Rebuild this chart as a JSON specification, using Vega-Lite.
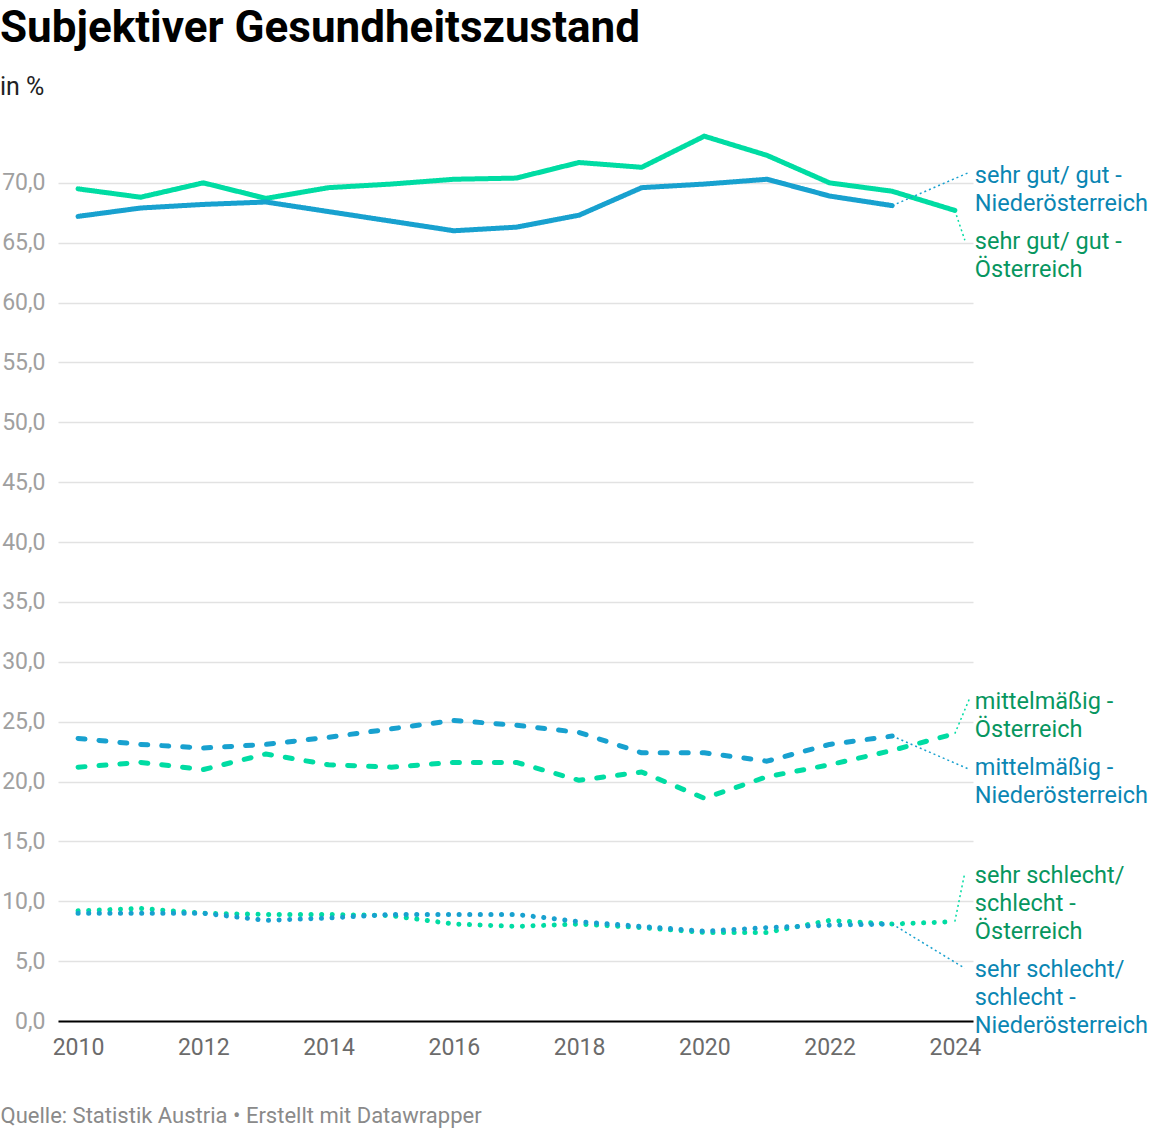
{
  "$schema": "https://vega.github.io/schema/vega-lite/v6.json",
  "autosize": {"type": "none"},
  "width": 915,
  "height": 898,
  "padding": {"left": 58, "top": 123, "right": 177, "bottom": 107},
  "title": {
    "text": "Subjektiver Gesundheitszustand",
    "subtitle": "in %",
    "anchor": "start",
    "frame": "group",
    "dx": -58,
    "offset": 23,
    "font": "Roboto",
    "fontSize": 44,
    "fontWeight": "bold",
    "color": "#000000",
    "subtitleFont": "Roboto",
    "subtitleFontSize": 25,
    "subtitleColor": "#222222",
    "subtitlePadding": 24
  },
  "config": {
    "background": "white",
    "view": {"stroke": null},
    "font": "Roboto"
  },
  "datasets": {
    "werte": [
      {"jahr": 2010, "serie": "gut_OE", "region": "Österreich", "kategorie": "sehr gut/ gut", "wert": 69.5},
      {"jahr": 2011, "serie": "gut_OE", "region": "Österreich", "kategorie": "sehr gut/ gut", "wert": 68.8},
      {"jahr": 2012, "serie": "gut_OE", "region": "Österreich", "kategorie": "sehr gut/ gut", "wert": 70.0},
      {"jahr": 2013, "serie": "gut_OE", "region": "Österreich", "kategorie": "sehr gut/ gut", "wert": 68.7},
      {"jahr": 2014, "serie": "gut_OE", "region": "Österreich", "kategorie": "sehr gut/ gut", "wert": 69.6},
      {"jahr": 2015, "serie": "gut_OE", "region": "Österreich", "kategorie": "sehr gut/ gut", "wert": 69.9},
      {"jahr": 2016, "serie": "gut_OE", "region": "Österreich", "kategorie": "sehr gut/ gut", "wert": 70.3},
      {"jahr": 2017, "serie": "gut_OE", "region": "Österreich", "kategorie": "sehr gut/ gut", "wert": 70.4},
      {"jahr": 2018, "serie": "gut_OE", "region": "Österreich", "kategorie": "sehr gut/ gut", "wert": 71.7},
      {"jahr": 2019, "serie": "gut_OE", "region": "Österreich", "kategorie": "sehr gut/ gut", "wert": 71.3},
      {"jahr": 2020, "serie": "gut_OE", "region": "Österreich", "kategorie": "sehr gut/ gut", "wert": 73.9},
      {"jahr": 2021, "serie": "gut_OE", "region": "Österreich", "kategorie": "sehr gut/ gut", "wert": 72.3},
      {"jahr": 2022, "serie": "gut_OE", "region": "Österreich", "kategorie": "sehr gut/ gut", "wert": 70.0},
      {"jahr": 2023, "serie": "gut_OE", "region": "Österreich", "kategorie": "sehr gut/ gut", "wert": 69.3},
      {"jahr": 2024, "serie": "gut_OE", "region": "Österreich", "kategorie": "sehr gut/ gut", "wert": 67.7},
      {"jahr": 2010, "serie": "gut_NOE", "region": "Niederösterreich", "kategorie": "sehr gut/ gut", "wert": 67.2},
      {"jahr": 2011, "serie": "gut_NOE", "region": "Niederösterreich", "kategorie": "sehr gut/ gut", "wert": 67.9},
      {"jahr": 2012, "serie": "gut_NOE", "region": "Niederösterreich", "kategorie": "sehr gut/ gut", "wert": 68.2},
      {"jahr": 2013, "serie": "gut_NOE", "region": "Niederösterreich", "kategorie": "sehr gut/ gut", "wert": 68.4},
      {"jahr": 2014, "serie": "gut_NOE", "region": "Niederösterreich", "kategorie": "sehr gut/ gut", "wert": 67.6},
      {"jahr": 2015, "serie": "gut_NOE", "region": "Niederösterreich", "kategorie": "sehr gut/ gut", "wert": 66.8},
      {"jahr": 2016, "serie": "gut_NOE", "region": "Niederösterreich", "kategorie": "sehr gut/ gut", "wert": 66.0},
      {"jahr": 2017, "serie": "gut_NOE", "region": "Niederösterreich", "kategorie": "sehr gut/ gut", "wert": 66.3},
      {"jahr": 2018, "serie": "gut_NOE", "region": "Niederösterreich", "kategorie": "sehr gut/ gut", "wert": 67.3},
      {"jahr": 2019, "serie": "gut_NOE", "region": "Niederösterreich", "kategorie": "sehr gut/ gut", "wert": 69.6},
      {"jahr": 2020, "serie": "gut_NOE", "region": "Niederösterreich", "kategorie": "sehr gut/ gut", "wert": 69.9},
      {"jahr": 2021, "serie": "gut_NOE", "region": "Niederösterreich", "kategorie": "sehr gut/ gut", "wert": 70.3},
      {"jahr": 2022, "serie": "gut_NOE", "region": "Niederösterreich", "kategorie": "sehr gut/ gut", "wert": 68.9},
      {"jahr": 2023, "serie": "gut_NOE", "region": "Niederösterreich", "kategorie": "sehr gut/ gut", "wert": 68.1},
      {"jahr": 2010, "serie": "mittel_OE", "region": "Österreich", "kategorie": "mittelmäßig", "wert": 21.2},
      {"jahr": 2011, "serie": "mittel_OE", "region": "Österreich", "kategorie": "mittelmäßig", "wert": 21.6},
      {"jahr": 2012, "serie": "mittel_OE", "region": "Österreich", "kategorie": "mittelmäßig", "wert": 21.0},
      {"jahr": 2013, "serie": "mittel_OE", "region": "Österreich", "kategorie": "mittelmäßig", "wert": 22.3},
      {"jahr": 2014, "serie": "mittel_OE", "region": "Österreich", "kategorie": "mittelmäßig", "wert": 21.4},
      {"jahr": 2015, "serie": "mittel_OE", "region": "Österreich", "kategorie": "mittelmäßig", "wert": 21.2},
      {"jahr": 2016, "serie": "mittel_OE", "region": "Österreich", "kategorie": "mittelmäßig", "wert": 21.6},
      {"jahr": 2017, "serie": "mittel_OE", "region": "Österreich", "kategorie": "mittelmäßig", "wert": 21.6},
      {"jahr": 2018, "serie": "mittel_OE", "region": "Österreich", "kategorie": "mittelmäßig", "wert": 20.1},
      {"jahr": 2019, "serie": "mittel_OE", "region": "Österreich", "kategorie": "mittelmäßig", "wert": 20.8},
      {"jahr": 2020, "serie": "mittel_OE", "region": "Österreich", "kategorie": "mittelmäßig", "wert": 18.6},
      {"jahr": 2021, "serie": "mittel_OE", "region": "Österreich", "kategorie": "mittelmäßig", "wert": 20.4},
      {"jahr": 2022, "serie": "mittel_OE", "region": "Österreich", "kategorie": "mittelmäßig", "wert": 21.4},
      {"jahr": 2023, "serie": "mittel_OE", "region": "Österreich", "kategorie": "mittelmäßig", "wert": 22.6},
      {"jahr": 2024, "serie": "mittel_OE", "region": "Österreich", "kategorie": "mittelmäßig", "wert": 24.0},
      {"jahr": 2010, "serie": "mittel_NOE", "region": "Niederösterreich", "kategorie": "mittelmäßig", "wert": 23.6},
      {"jahr": 2011, "serie": "mittel_NOE", "region": "Niederösterreich", "kategorie": "mittelmäßig", "wert": 23.1},
      {"jahr": 2012, "serie": "mittel_NOE", "region": "Niederösterreich", "kategorie": "mittelmäßig", "wert": 22.8},
      {"jahr": 2013, "serie": "mittel_NOE", "region": "Niederösterreich", "kategorie": "mittelmäßig", "wert": 23.1},
      {"jahr": 2014, "serie": "mittel_NOE", "region": "Niederösterreich", "kategorie": "mittelmäßig", "wert": 23.7},
      {"jahr": 2015, "serie": "mittel_NOE", "region": "Niederösterreich", "kategorie": "mittelmäßig", "wert": 24.4},
      {"jahr": 2016, "serie": "mittel_NOE", "region": "Niederösterreich", "kategorie": "mittelmäßig", "wert": 25.1},
      {"jahr": 2017, "serie": "mittel_NOE", "region": "Niederösterreich", "kategorie": "mittelmäßig", "wert": 24.7},
      {"jahr": 2018, "serie": "mittel_NOE", "region": "Niederösterreich", "kategorie": "mittelmäßig", "wert": 24.1},
      {"jahr": 2019, "serie": "mittel_NOE", "region": "Niederösterreich", "kategorie": "mittelmäßig", "wert": 22.4},
      {"jahr": 2020, "serie": "mittel_NOE", "region": "Niederösterreich", "kategorie": "mittelmäßig", "wert": 22.4},
      {"jahr": 2021, "serie": "mittel_NOE", "region": "Niederösterreich", "kategorie": "mittelmäßig", "wert": 21.7},
      {"jahr": 2022, "serie": "mittel_NOE", "region": "Niederösterreich", "kategorie": "mittelmäßig", "wert": 23.1},
      {"jahr": 2023, "serie": "mittel_NOE", "region": "Niederösterreich", "kategorie": "mittelmäßig", "wert": 23.8},
      {"jahr": 2010, "serie": "schlecht_OE", "region": "Österreich", "kategorie": "sehr schlecht/ schlecht", "wert": 9.2},
      {"jahr": 2011, "serie": "schlecht_OE", "region": "Österreich", "kategorie": "sehr schlecht/ schlecht", "wert": 9.4},
      {"jahr": 2012, "serie": "schlecht_OE", "region": "Österreich", "kategorie": "sehr schlecht/ schlecht", "wert": 9.0},
      {"jahr": 2013, "serie": "schlecht_OE", "region": "Österreich", "kategorie": "sehr schlecht/ schlecht", "wert": 8.9},
      {"jahr": 2014, "serie": "schlecht_OE", "region": "Österreich", "kategorie": "sehr schlecht/ schlecht", "wert": 8.9},
      {"jahr": 2015, "serie": "schlecht_OE", "region": "Österreich", "kategorie": "sehr schlecht/ schlecht", "wert": 8.8},
      {"jahr": 2016, "serie": "schlecht_OE", "region": "Österreich", "kategorie": "sehr schlecht/ schlecht", "wert": 8.1},
      {"jahr": 2017, "serie": "schlecht_OE", "region": "Österreich", "kategorie": "sehr schlecht/ schlecht", "wert": 7.9},
      {"jahr": 2018, "serie": "schlecht_OE", "region": "Österreich", "kategorie": "sehr schlecht/ schlecht", "wert": 8.1},
      {"jahr": 2019, "serie": "schlecht_OE", "region": "Österreich", "kategorie": "sehr schlecht/ schlecht", "wert": 7.8},
      {"jahr": 2020, "serie": "schlecht_OE", "region": "Österreich", "kategorie": "sehr schlecht/ schlecht", "wert": 7.4},
      {"jahr": 2021, "serie": "schlecht_OE", "region": "Österreich", "kategorie": "sehr schlecht/ schlecht", "wert": 7.4},
      {"jahr": 2022, "serie": "schlecht_OE", "region": "Österreich", "kategorie": "sehr schlecht/ schlecht", "wert": 8.4},
      {"jahr": 2023, "serie": "schlecht_OE", "region": "Österreich", "kategorie": "sehr schlecht/ schlecht", "wert": 8.1},
      {"jahr": 2024, "serie": "schlecht_OE", "region": "Österreich", "kategorie": "sehr schlecht/ schlecht", "wert": 8.3},
      {"jahr": 2010, "serie": "schlecht_NOE", "region": "Niederösterreich", "kategorie": "sehr schlecht/ schlecht", "wert": 9.0},
      {"jahr": 2011, "serie": "schlecht_NOE", "region": "Niederösterreich", "kategorie": "sehr schlecht/ schlecht", "wert": 9.0},
      {"jahr": 2012, "serie": "schlecht_NOE", "region": "Niederösterreich", "kategorie": "sehr schlecht/ schlecht", "wert": 9.0},
      {"jahr": 2013, "serie": "schlecht_NOE", "region": "Niederösterreich", "kategorie": "sehr schlecht/ schlecht", "wert": 8.4},
      {"jahr": 2014, "serie": "schlecht_NOE", "region": "Niederösterreich", "kategorie": "sehr schlecht/ schlecht", "wert": 8.6},
      {"jahr": 2015, "serie": "schlecht_NOE", "region": "Niederösterreich", "kategorie": "sehr schlecht/ schlecht", "wert": 8.9},
      {"jahr": 2016, "serie": "schlecht_NOE", "region": "Niederösterreich", "kategorie": "sehr schlecht/ schlecht", "wert": 8.9},
      {"jahr": 2017, "serie": "schlecht_NOE", "region": "Niederösterreich", "kategorie": "sehr schlecht/ schlecht", "wert": 8.9},
      {"jahr": 2018, "serie": "schlecht_NOE", "region": "Niederösterreich", "kategorie": "sehr schlecht/ schlecht", "wert": 8.3},
      {"jahr": 2019, "serie": "schlecht_NOE", "region": "Niederösterreich", "kategorie": "sehr schlecht/ schlecht", "wert": 7.9},
      {"jahr": 2020, "serie": "schlecht_NOE", "region": "Niederösterreich", "kategorie": "sehr schlecht/ schlecht", "wert": 7.5},
      {"jahr": 2021, "serie": "schlecht_NOE", "region": "Niederösterreich", "kategorie": "sehr schlecht/ schlecht", "wert": 7.8},
      {"jahr": 2022, "serie": "schlecht_NOE", "region": "Niederösterreich", "kategorie": "sehr schlecht/ schlecht", "wert": 8.0},
      {"jahr": 2023, "serie": "schlecht_NOE", "region": "Niederösterreich", "kategorie": "sehr schlecht/ schlecht", "wert": 8.1}
    ],
    "hinweise": [
      {"region": "Niederösterreich", "label": "sehr gut/ gut -\nNiederösterreich", "x1": 2023, "y1": 68.1, "x2": 2024.24, "y2": 70.9, "ylabel": 70.6},
      {"region": "Österreich", "label": "sehr gut/ gut -\nÖsterreich", "x1": 2024, "y1": 67.7, "x2": 2024.16, "y2": 65.2, "ylabel": 65.1},
      {"region": "Österreich", "label": "mittelmäßig -\nÖsterreich", "x1": 2024, "y1": 24.0, "x2": 2024.24, "y2": 27.0, "ylabel": 26.65},
      {"region": "Niederösterreich", "label": "mittelmäßig -\nNiederösterreich", "x1": 2023, "y1": 23.8, "x2": 2024.24, "y2": 21.0, "ylabel": 21.15},
      {"region": "Österreich", "label": "sehr schlecht/\nschlecht -\nÖsterreich", "x1": 2024, "y1": 8.3, "x2": 2024.16, "y2": 12.4, "ylabel": 12.1},
      {"region": "Niederösterreich", "label": "sehr schlecht/\nschlecht -\nNiederösterreich", "x1": 2023, "y1": 8.1, "x2": 2024.16, "y2": 4.4, "ylabel": 4.25}
    ]
  },
  "encoding": {
    "x": {
      "type": "quantitative",
      "scale": {"domain": [2009.68, 2024.29], "nice": false, "zero": false},
      "axis": {
        "values": [2010, 2012, 2014, 2016, 2018, 2020, 2022, 2024],
        "format": "d",
        "grid": false,
        "ticks": false,
        "domain": true,
        "domainColor": "#000000",
        "domainWidth": 2,
        "labelFont": "Roboto",
        "labelFontSize": 23,
        "labelColor": "#6b6b6b",
        "labelPadding": 15,
        "labelFlush": false,
        "title": "Quelle: Statistik Austria • Erstellt mit Datawrapper",
        "titleFont": "Roboto",
        "titleFontSize": 22,
        "titleFontWeight": "normal",
        "titleColor": "#8a8a8a",
        "titleAnchor": "start",
        "titleAlign": "left",
        "titleBaseline": "alphabetic",
        "titleX": -58,
        "titleY": 101
      }
    },
    "y": {
      "type": "quantitative",
      "scale": {"domain": [0, 75], "nice": false},
      "axis": {
        "values": [0, 5, 10, 15, 20, 25, 30, 35, 40, 45, 50, 55, 60, 65, 70],
        "labelExpr": "replace(format(datum.value, '.1f'), '.', ',')",
        "grid": true,
        "gridColor": "#e2e2e2",
        "gridWidth": 1.5,
        "domain": false,
        "ticks": false,
        "labelFont": "Roboto",
        "labelFontSize": 23,
        "labelColor": "#a0a0a0",
        "labelPadding": 13,
        "labelBaseline": "middle",
        "title": null
      }
    }
  },
  "layer": [
    {
      "data": {"name": "werte"},
      "mark": {"type": "line", "strokeCap": "round", "strokeJoin": "round"},
      "encoding": {
        "x": {"field": "jahr"},
        "y": {"field": "wert"},
        "detail": {"field": "serie", "type": "nominal"},
        "color": {
          "field": "region",
          "type": "nominal",
          "scale": {"domain": ["Niederösterreich", "Österreich"], "range": ["#18a1cf", "#00dca3"]},
          "legend": null
        },
        "strokeDash": {
          "field": "kategorie",
          "type": "nominal",
          "scale": {
            "domain": ["sehr gut/ gut", "mittelmäßig", "sehr schlecht/ schlecht"],
            "range": [[1, 0], [7, 14], [0.1, 10.5]]
          },
          "legend": null
        },
        "strokeWidth": {
          "field": "kategorie",
          "type": "nominal",
          "scale": {
            "domain": ["sehr gut/ gut", "mittelmäßig", "sehr schlecht/ schlecht"],
            "range": [5, 5, 5.5]
          },
          "legend": null
        }
      }
    },
    {
      "data": {"name": "hinweise"},
      "mark": {"type": "rule", "strokeWidth": 1.5, "strokeDash": [2, 3]},
      "encoding": {
        "x": {"field": "x1"},
        "y": {"field": "y1"},
        "x2": {"field": "x2"},
        "y2": {"field": "y2"},
        "color": {
          "field": "region",
          "type": "nominal",
          "scale": {"domain": ["Niederösterreich", "Österreich"], "range": ["#18a1cf", "#00dca3"]},
          "legend": null
        }
      }
    },
    {
      "data": {"name": "hinweise"},
      "mark": {
        "type": "text",
        "align": "left",
        "baseline": "middle",
        "lineBreak": "\n",
        "lineHeight": 28,
        "font": "Roboto",
        "fontSize": 23.5,
        "dx": 20
      },
      "encoding": {
        "x": {"datum": 2024},
        "y": {"field": "ylabel"},
        "text": {"field": "label", "type": "nominal"},
        "color": {
          "field": "region",
          "type": "nominal",
          "scale": {"domain": ["Niederösterreich", "Österreich"], "range": ["#0a86b3", "#07965f"]},
          "legend": null
        }
      }
    }
  ],
  "resolve": {"scale": {"color": "independent"}}
}
